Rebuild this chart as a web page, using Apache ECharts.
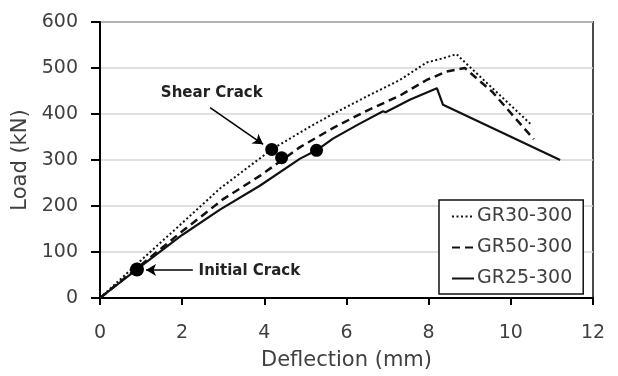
<!DOCTYPE html>
<html>
<head>
<meta charset="utf-8">
<script src="https://cdn.jsdelivr.net/npm/echarts@6/dist/echarts.min.js"></script>
<style>
  html, body { margin: 0; padding: 0; background: #fff; }
  #chart { width: 618px; height: 376px; }
</style>
</head>
<body>
<div id="chart"></div>
<script>
// Load–deflection curves, [deflection (mm), load (kN)]
const gr30 = [[0,0],[1,82],[2,163],[2.92,238],[4.18,323],[5.1,372],[5.67,400],[6.49,438],[7.3,474],[7.95,512],[8.3,520],[8.68,530],[8.85,515],[10.52,375]];
const gr50 = [[0,0],[1,72],[2,145],[3,215],[3.9,266],[4.4,298],[4.87,328],[5.68,370],[6.49,407],[7.3,440],[7.95,474],[8.43,492],[8.88,500],[9.55,448],[10.56,345]];
const gr25 = [[0,0],[0.92,64],[2,137],[2.92,192],[3.89,244],[4.87,303],[5.27,321],[5.68,347],[6.3,378],[6.89,406],[6.95,404],[7.54,431],[8.2,456],[8.35,420],[11.2,300]];

// Crack points marked on the curves
const initialCrack = [[0.9, 62]];
const shearCrack = [[4.18, 323], [4.42, 305], [5.27, 321]];

const seriesNames = ['GR30-300', 'GR50-300', 'GR25-300'];
const xTicks = { min: 0, max: 12, step: 2 };
const yTicks = { min: 0, max: 600, step: 100 };

const chart = echarts.init(document.getElementById('chart'));
const font = 'DejaVu Sans';
const txt = '#404040';

chart.setOption({
  animation: false,
  backgroundColor: '#fff',
  grid: {
    left: 100, right: 25, top: 22, bottom: 77,
    show: true, borderColor: '#4a4a4a', borderWidth: 2
  },
  xAxis: {
    type: 'value', min: xTicks.min, max: xTicks.max, interval: xTicks.step,
    name: 'Deflection (mm)', nameLocation: 'middle', nameGap: 52,
    nameTextStyle: { fontFamily: font, fontSize: 21, color: txt },
    axisLine: { lineStyle: { color: '#000', width: 2 } },
    axisTick: { show: true, inside: false, length: 7, lineStyle: { color: '#000', width: 2 } },
    axisLabel: { fontFamily: font, fontSize: 19, color: txt, margin: 26 },
    splitLine: { show: false }
  },
  yAxis: {
    type: 'value', min: yTicks.min, max: yTicks.max, interval: yTicks.step,
    name: 'Load (kN)', nameLocation: 'middle', nameGap: 68,
    nameTextStyle: { fontFamily: font, fontSize: 21, color: txt },
    axisLine: { show: true, lineStyle: { color: '#000', width: 2 } },
    axisTick: { show: true, inside: false, length: 9, lineStyle: { color: '#000', width: 2 } },
    axisLabel: { fontFamily: font, fontSize: 19, color: txt, margin: 22 },
    splitLine: { show: true, lineStyle: { color: '#d6d6d6', width: 1.5 } }
  },
  legend: {
    data: seriesNames,
    orient: 'vertical',
    left: 439, top: 200,
    padding: [7, 11, 6, 12],
    itemWidth: 22, itemHeight: 18, itemGap: 12,
    backgroundColor: '#fff',
    borderColor: '#111', borderWidth: 1.5, borderRadius: 0,
    itemStyle: { color: 'rgba(0,0,0,0)', borderColor: 'rgba(0,0,0,0)', borderWidth: 0 },
    textStyle: { fontFamily: font, fontSize: 19, color: txt, padding: [0, 0, 0, -2] }
  },
  series: [
    {
      name: seriesNames[0], type: 'line', data: gr30, symbol: 'none',
      itemStyle: { color: '#111' },
      lineStyle: { color: '#111', width: 2, type: [2, 2.5] }, z: 3
    },
    {
      name: seriesNames[1], type: 'line', data: gr50, symbol: 'none',
      itemStyle: { color: '#111' },
      lineStyle: { color: '#111', width: 2.5, type: [8, 5] }, z: 3
    },
    {
      name: seriesNames[2], type: 'line', data: gr25, symbol: 'none',
      itemStyle: { color: '#111' },
      lineStyle: { color: '#111', width: 2.2, type: 'solid' }, z: 3
    },
    {
      name: 'Initial Crack', type: 'scatter', data: initialCrack,
      symbol: 'circle', symbolSize: 14, itemStyle: { color: '#000', opacity: 1 }, z: 5,
      markLine: {
        silent: true, symbol: ['none', 'arrow'], symbolSize: [9, 10],
        lineStyle: { color: '#000', width: 1.5, type: 'solid' },
        label: { show: false },
        data: [[{ coord: [2.26, 61] }, { coord: [1.12, 61] }]]
      },
      markPoint: {
        silent: true, symbol: 'circle', symbolSize: 0,
        label: {
          show: true, position: 'right', distance: 0, formatter: 'Initial Crack',
          fontFamily: font, fontSize: 15, fontWeight: 'bold', color: '#222'
        },
        data: [{ coord: [2.4, 59] }]
      }
    },
    {
      name: 'Shear Crack', type: 'scatter', data: shearCrack,
      symbol: 'circle', symbolSize: 13, itemStyle: { color: '#000', opacity: 1 }, z: 5,
      markLine: {
        silent: true, symbol: ['none', 'arrow'], symbolSize: [9, 10],
        lineStyle: { color: '#000', width: 1.5, type: 'solid' },
        label: { show: false },
        data: [[{ coord: [2.68, 414] }, { coord: [3.97, 334] }]]
      },
      markPoint: {
        silent: true, symbol: 'circle', symbolSize: 0,
        label: {
          show: true, position: 'inside', formatter: 'Shear Crack',
          fontFamily: font, fontSize: 15, fontWeight: 'bold', color: '#222'
        },
        data: [{ coord: [2.72, 445] }]
      }
    }
  ]
});
</script>
</body>
</html>
